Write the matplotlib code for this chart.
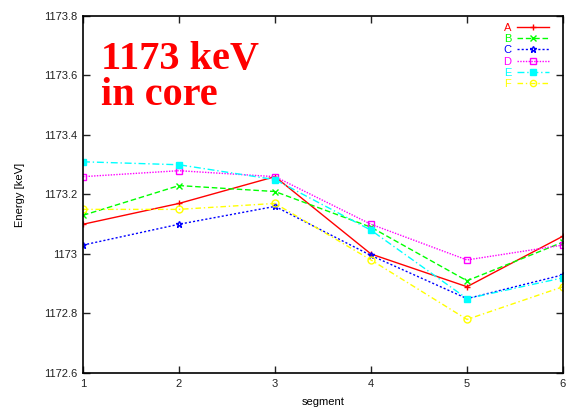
import numpy as np
import matplotlib.pyplot as plt

segments = [1, 2, 3, 4, 5, 6]

energy_a = [1173.10, 1173.17, 1173.26, 1173.00, 1172.89, 1173.06]
energy_b = [1173.13, 1173.23, 1173.21, 1173.09, 1172.91, 1173.04]
energy_c = [1173.03, 1173.10, 1173.16, 1172.995, 1172.85, 1172.93]
energy_d = [1173.26, 1173.28, 1173.26, 1173.10, 1172.98, 1173.03]
energy_e = [1173.31, 1173.30, 1173.25, 1173.08, 1172.85, 1172.92]
energy_f = [1173.15, 1173.15, 1173.17, 1172.98, 1172.78, 1172.89]

yticks = [1172.6, 1172.8, 1173.0, 1173.2, 1173.4, 1173.6, 1173.8]
ytick_labels = ['1172.6', '1172.8', '1173', '1173.2', '1173.4', '1173.6', '1173.8']

plt.rcParams['font.family'] = ['Liberation Sans', 'DejaVu Sans']

fig = plt.figure(figsize=(5.71, 4.07), dpi=100)
ax = fig.add_axes([83 / 571, (407 - 373) / 407, (563 - 83) / 571, (373 - 16) / 407])

# gnuplot-like line types
series = [
    ('A', energy_a, '#ff0000', '-', '+', 'none'),
    ('B', energy_b, '#00ff00', (0, (4, 2)), 'x', 'none'),
    ('C', energy_c, '#0000ff', (0, (1.5, 1.5)), '*', 'none'),
    ('D', energy_d, '#ff00ff', (0, (1, 1)), 's', 'none'),
    ('E', energy_e, '#00ffff', (0, (5, 2, 1, 2)), 's', 'full'),
    ('F', energy_f, '#ffff00', (0, (4, 2, 1, 2)), 'o', 'none'),
]

for name, vals, col, ls, mk, fill in series:
    ax.plot(segments, vals, color=col, linestyle=ls, linewidth=1.0,
            marker=mk, markersize=5, markeredgewidth=1.0,
            markerfacecolor=col if fill == 'full' else 'none',
            markeredgecolor=col, label=name)

ax.set_xlim(1, 6)
ax.set_ylim(1172.6, 1173.8)
ax.set_xticks(segments)
ax.set_yticks(yticks)
ax.set_yticklabels(ytick_labels)
ax.tick_params(direction='in', length=5, width=1, labelsize=8,
               top=True, right=True, pad=4, colors='#222222')
for s in ax.spines.values():
    s.set_linewidth(1.2)

ax.set_xlabel('segment', fontsize=8, labelpad=6)
ax.set_ylabel('Energy [keV]', fontsize=8, labelpad=14)

ax.text(0.037, 0.93, '1173 keV\nin core', transform=ax.transAxes,
        color='red', fontsize=29, fontweight='bold', family='Liberation Serif',
        va='top', ha='left', linespacing=0.95)

leg = ax.legend(loc='upper right', bbox_to_anchor=(0.985, 1.0), frameon=False,
                markerfirst=False, fontsize=8, labelcolor='linecolor',
                handlelength=2.9, handletextpad=0.5, labelspacing=0.12,
                borderaxespad=0.2, markerscale=0.9)
for t in leg.get_texts():
    t.set_ha('right')

fig.savefig('out.png', dpi=100)
